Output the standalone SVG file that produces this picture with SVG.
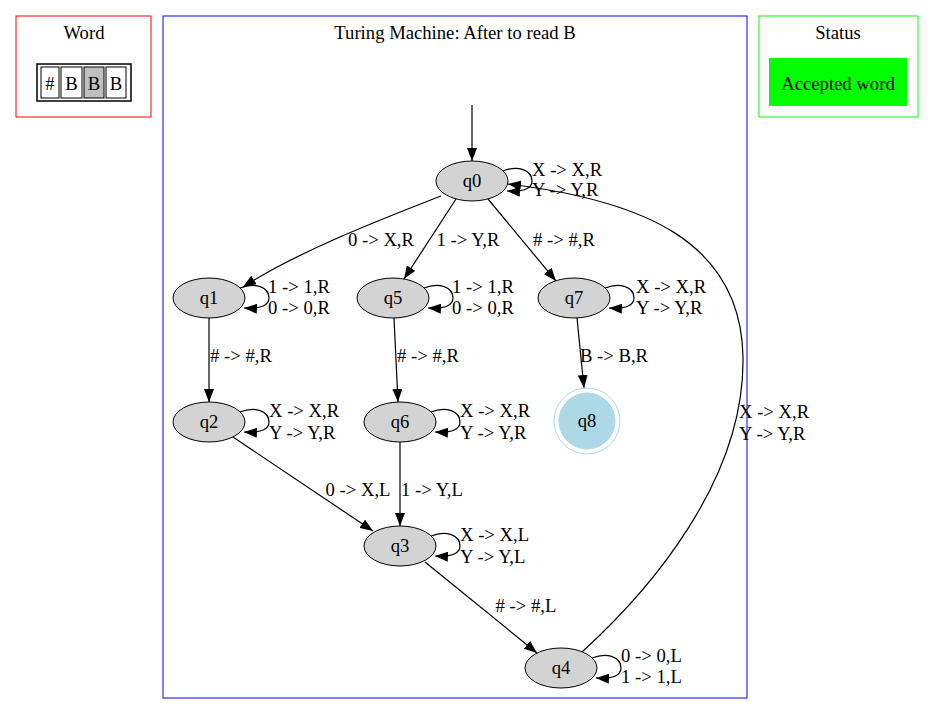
<svg xmlns="http://www.w3.org/2000/svg" width="935" height="715" viewBox="0 0 935 715">
<style>
text{font-family:"Liberation Serif","Times New Roman",serif;font-size:18.67px;fill:#000}
.c{text-anchor:middle}
.n{fill:#d3d3d3;stroke:#000;stroke-width:1}
.e{fill:none;stroke:#000;stroke-width:1.2}
.cell{fill:#fff;stroke:#000;stroke-width:1}
</style>
<defs>
<marker id="a" markerUnits="userSpaceOnUse" markerWidth="14" markerHeight="10" refX="13" refY="5" orient="auto">
<path d="M0,0 L13,5 L0,10 Z" fill="#000"/>
</marker>
</defs>
<rect width="935" height="715" fill="#fff"/>
<g id="cluster_word">
<rect x="16" y="16" width="135" height="101" fill="none" stroke="#ff0000"/>
<text class="c" x="84" y="39">Word</text>
<rect x="37" y="64" width="94" height="37" fill="#fff" stroke="#000" stroke-width="1.5"/>
<rect class="cell" x="41" y="67" width="18" height="31"/>
<rect class="cell" x="61" y="67" width="21" height="31"/>
<rect x="84" y="67" width="20" height="31" fill="#c0c0c0" stroke="#000"/>
<rect class="cell" x="106" y="67" width="20" height="31"/>
<text class="c" x="50" y="90">#</text>
<text class="c" x="71.5" y="90">B</text>
<text class="c" x="94" y="90">B</text>
<text class="c" x="116" y="90">B</text>
</g>
<g id="cluster_tm">
<rect x="163" y="16" width="584" height="682" fill="none" stroke="#0000ff"/>
<text class="c" x="455" y="39">Turing Machine: After to read B</text>
</g>
<g id="cluster_status">
<rect x="759" y="16" width="159" height="101" fill="none" stroke="#00ff00"/>
<text class="c" x="838" y="39">Status</text>
<rect x="769" y="58" width="138" height="48" fill="#00ff00"/>
<text class="c" x="838" y="90">Accepted word</text>
</g>
<g id="edges">
<path class="e" d="M472,105 L472,161" marker-end="url(#a)"/>
<path class="e" d="M503,171 C518,165 532,170 532,181 C532,188 525,192 507,191" marker-end="url(#a)"/>
<text x="532" y="176">X -&gt; X,R</text>
<text x="532" y="196">Y -&gt; Y,R</text>
<path class="e" d="M441,196 C390,216 300,250 243,287" marker-end="url(#a)"/>
<text class="c" x="381" y="246">0 -&gt; X,R</text>
<path class="e" d="M456,199 L404,279" marker-end="url(#a)"/>
<text class="c" x="468" y="246">1 -&gt; Y,R</text>
<path class="e" d="M488,199 L556,281" marker-end="url(#a)"/>
<text class="c" x="564" y="246"># -&gt; #,R</text>
<path class="e" d="M582,652 C650,590 745,480 743,357 C741,240 640,200 508,184" marker-end="url(#a)"/>
<text x="739" y="418">X -&gt; X,R</text>
<text x="739" y="440">Y -&gt; Y,R</text>
<path class="e" d="M240,288 C255,282 269,287 269,298 C269,305 262,309 244,308" marker-end="url(#a)"/>
<text x="268" y="293">1 -&gt; 1,R</text>
<text x="268" y="314">0 -&gt; 0,R</text>
<path class="e" d="M209,318 L209,402" marker-end="url(#a)"/>
<text class="c" x="241" y="362"># -&gt; #,R</text>
<path class="e" d="M424,288 C439,282 453,287 453,298 C453,305 446,309 428,308" marker-end="url(#a)"/>
<text x="452" y="293">1 -&gt; 1,R</text>
<text x="452" y="314">0 -&gt; 0,R</text>
<path class="e" d="M394,318 L398,402" marker-end="url(#a)"/>
<text class="c" x="428" y="362"># -&gt; #,R</text>
<path class="e" d="M605,288 C620,282 634,287 634,298 C634,305 627,309 609,308" marker-end="url(#a)"/>
<text x="636" y="293">X -&gt; X,R</text>
<text x="636" y="314">Y -&gt; Y,R</text>
<path class="e" d="M577,318 L584,388" marker-end="url(#a)"/>
<text class="c" x="614" y="362">B -&gt; B,R</text>
<path class="e" d="M240,412 C255,406 269,411 269,422 C269,429 262,433 244,432" marker-end="url(#a)"/>
<text x="269" y="417">X -&gt; X,R</text>
<text x="269" y="439">Y -&gt; Y,R</text>
<path class="e" d="M431,412 C446,406 460,411 460,422 C460,429 453,433 435,432" marker-end="url(#a)"/>
<text x="460" y="417">X -&gt; X,R</text>
<text x="460" y="439">Y -&gt; Y,R</text>
<path class="e" d="M233,437 L373,531" marker-end="url(#a)"/>
<text class="c" x="358" y="496">0 -&gt; X,L</text>
<path class="e" d="M400,442 L400,526" marker-end="url(#a)"/>
<text class="c" x="432" y="496">1 -&gt; Y,L</text>
<path class="e" d="M431,536 C446,530 460,535 460,546 C460,553 453,557 435,556" marker-end="url(#a)"/>
<text x="460" y="541">X -&gt; X,L</text>
<text x="460" y="563">Y -&gt; Y,L</text>
<path class="e" d="M425,562 L537,653" marker-end="url(#a)"/>
<text class="c" x="526" y="612"># -&gt; #,L</text>
<path class="e" d="M592,658 C607,652 621,657 621,668 C621,675 614,679 596,678" marker-end="url(#a)"/>
<text x="621" y="662">0 -&gt; 0,L</text>
<text x="621" y="683">1 -&gt; 1,L</text>
</g>
<g id="q0"><ellipse class="n" cx="472" cy="181" rx="36" ry="20"/><text class="c" x="472" y="187">q0</text></g>
<g id="q1"><ellipse class="n" cx="209" cy="298" rx="36" ry="20"/><text class="c" x="209" y="304">q1</text></g>
<g id="q5"><ellipse class="n" cx="393" cy="298" rx="36" ry="20"/><text class="c" x="393" y="304">q5</text></g>
<g id="q7"><ellipse class="n" cx="574" cy="298" rx="36" ry="20"/><text class="c" x="574" y="304">q7</text></g>
<g id="q2"><ellipse class="n" cx="209" cy="422" rx="36" ry="20"/><text class="c" x="209" y="428">q2</text></g>
<g id="q6"><ellipse class="n" cx="400" cy="422" rx="36" ry="20"/><text class="c" x="400" y="428">q6</text></g>
<g id="q8"><circle cx="587" cy="421" r="33" fill="none" stroke="#add8e6"/><circle cx="587" cy="421" r="28" fill="#add8e6" stroke="#add8e6"/><text class="c" x="587" y="427">q8</text></g>
<g id="q3"><ellipse class="n" cx="400" cy="546" rx="36" ry="20"/><text class="c" x="400" y="552">q3</text></g>
<g id="q4"><ellipse class="n" cx="561" cy="668" rx="36" ry="20"/><text class="c" x="561" y="674">q4</text></g>
</svg>
